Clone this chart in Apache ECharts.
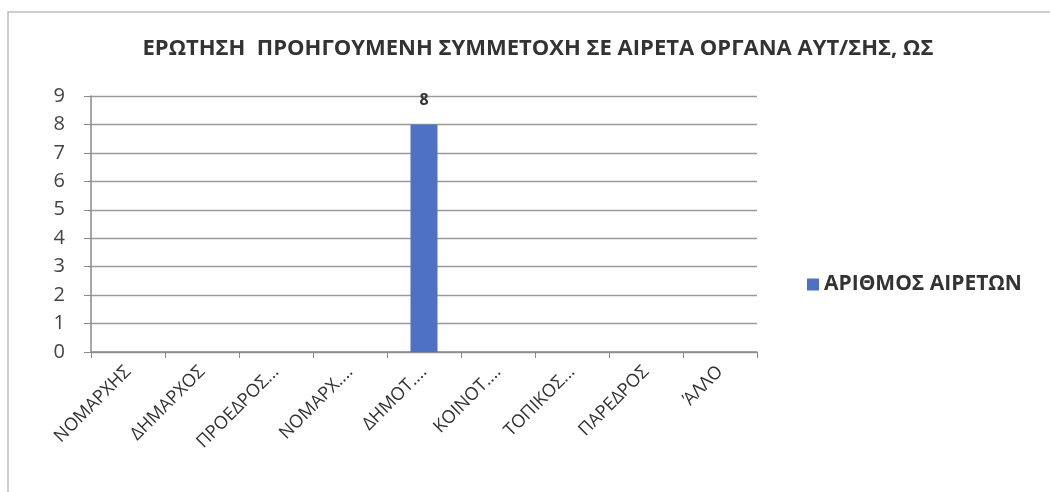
<!DOCTYPE html>
<html><head><meta charset="utf-8">
<script src="https://cdn.jsdelivr.net/npm/echarts@6/dist/echarts.min.js"></script>
<style>html,body{margin:0;padding:0;background:#fff}#c{width:1050px;height:492px}</style>
</head><body><div id="c"></div>
<script>
const titleText = 'ΕΡΩΤΗΣΗ  ΠΡΟΗΓΟΥΜΕΝΗ ΣΥΜΜΕΤΟΧΗ ΣΕ ΑΙΡΕΤΑ ΟΡΓΑΝΑ ΑΥΤ/ΣΗΣ, ΩΣ';
const categories = ['ΝΟΜΑΡΧΗΣ','ΔΗΜΑΡΧΟΣ','ΠΡΟΕΔΡΟΣ...','ΝΟΜΑΡΧ....','ΔΗΜΟΤ....','ΚΟΙΝΟΤ....','ΤΟΠΙΚΟΣ...','ΠΑΡΕΔΡΟΣ','ΆΛΛΟ'];
const seriesName = 'ΑΡΙΘΜΟΣ ΑΙΡΕΤΩΝ';
const values = [0,0,0,0,8,0,0,0,0];
const yTicks = {min:0, max:9, interval:1};

const FONT = '"Open Sans", "Noto Sans", sans-serif';
const chart = echarts.init(document.getElementById('c'), null, {renderer:'canvas'});
chart.setOption({
  backgroundColor:'#ffffff',
  animation:false,
  graphic:[{type:'rect', shape:{x:8,y:12,width:1050,height:500}, style:{fill:'none', stroke:'#bdbdbd', lineWidth:1.5}}],
  title:{text:titleText, left:533, top:33, textAlign:'center',
    textStyle:{fontFamily:FONT, fontWeight:'bold', fontSize:22, color:'#333'}},
  legend:{data:[seriesName], left:802, top:269, icon:'rect', itemWidth:12, itemHeight:12, itemGap:6,
    textStyle:{fontFamily:FONT, fontSize:21, fontWeight:'bold', color:'#333'}},
  grid:{left:91, top:96, width:666, height:256, containLabel:false},
  xAxis:{type:'category', data:categories,
    axisLine:{lineStyle:{color:'#8a8a8a', width:1.5}},
    axisTick:{show:true, length:6, lineStyle:{color:'#8a8a8a'}},
    axisLabel:{interval:0, rotate:45, margin:17, fontFamily:FONT, fontSize:18, color:'#333'}},
  yAxis:{type:'value', min:yTicks.min, max:yTicks.max, interval:yTicks.interval,
    axisLine:{show:true, lineStyle:{color:'#8a8a8a', width:1.5}},
    axisTick:{show:true, length:7, lineStyle:{color:'#8a8a8a'}},
    axisLabel:{margin:26, fontFamily:FONT, fontSize:20, color:'#444'},
    splitLine:{lineStyle:{color:'#9a9a9a', width:1.3}}},
  series:[{name:seriesName, type:'bar', data:values, barWidth:27,
    itemStyle:{color:'#4e71c4'},
    label:{show:true, position:'top', distance:16, fontFamily:FONT, fontSize:16, fontWeight:'bold', color:'#333',
      formatter:p=>p.value===0?'':String(p.value)}}]
});
</script></body></html>
